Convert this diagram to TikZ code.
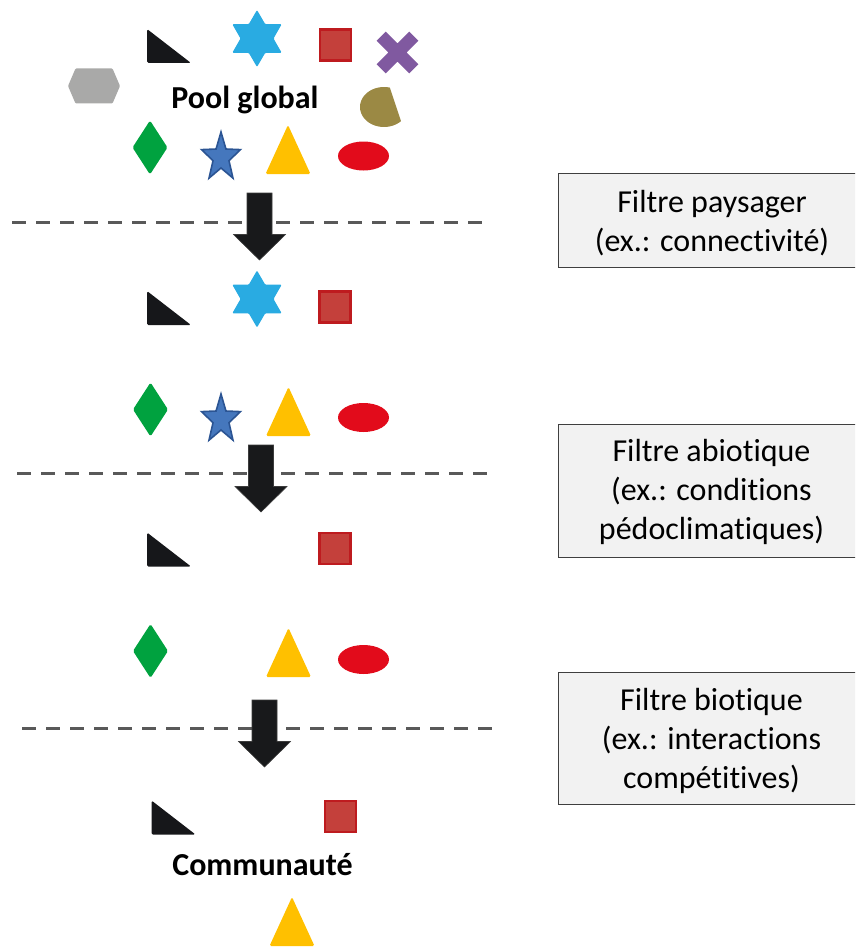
\documentclass[tikz,border=0pt]{standalone}
\usepackage{fontspec}
\setmainfont{Carlito}[Ligatures=NoCommon]

% species colours
\definecolor{tricol}{HTML}{16171A}
\definecolor{skyblue}{HTML}{29ABE2}
\definecolor{sqfill}{HTML}{C4403B}
\definecolor{sqline}{HTML}{BE1B1F}
\definecolor{purplec}{HTML}{8059A0}
\definecolor{grayhex}{HTML}{A9A9A8}
\definecolor{olivec}{HTML}{9B8944}
\definecolor{greenc}{HTML}{00A23F}
\definecolor{starfill}{HTML}{4577BD}
\definecolor{starline}{HTML}{2B5493}
\definecolor{yellowc}{HTML}{FFC000}
\definecolor{ellred}{HTML}{E20B1B}
% arrows, separators, filter boxes
\definecolor{arrowc}{HTML}{18191B}
\definecolor{arrowedge}{HTML}{3C3C3C}
\definecolor{sepgray}{HTML}{595959}
\definecolor{boxfill}{HTML}{F2F2F2}
\definecolor{boxline}{HTML}{3F3F3F}

\begin{document}
\begin{tikzpicture}[x=1pt,y=-1pt,
  every node/.style={inner sep=0pt},
  sepline/.style={draw=sepgray,line width=3pt,dash pattern=on 14pt off 10pt},
  filterbox/.style={draw=boxline,fill=boxfill,line width=1.3pt,
    minimum width=308pt,anchor=north west},
  filtertext/.style={align=center,font=\fontsize{32}{39}\selectfont,anchor=north},
  poollabel/.style={font=\fontsize{32}{38}\selectfont\bfseries,anchor=base},
  blocktri/.pic={\fill[tricol,rounded corners=1.5pt] (-22,-17) -- (-22,17) -- (22,17) -- cycle;},
  sixstar/.pic={\fill[skyblue,rounded corners=1pt]
    (90:28.5) -- (120:16.5) -- (150:28.5) -- (180:16.5) -- (210:28.5) -- (240:16.5)
    -- (270:28.5) -- (300:16.5) -- (330:28.5) -- (0:16.5) -- (30:28.5) -- (60:16.5) -- cycle;},
  redsq/.pic={\filldraw[fill=sqfill,draw=sqline,line width=2.4pt] (-15.5,-15.5) rectangle (15.5,15.5);},
  fivestar/.pic={\filldraw[fill=starfill,draw=starline,line width=1.6pt,xscale=0.8]
    (-90:25.5) -- (-54:10.5) -- (-18:25.5) -- (18:10.5) -- (54:25.5) -- (90:10.5)
    -- (126:25.5) -- (162:10.5) -- (198:25.5) -- (234:10.5) -- cycle;},
  ytri/.pic={\fill[yellowc,rounded corners=1.5pt] (0,-24.5) -- (22.5,24.5) -- (-22.5,24.5) -- cycle;},
  redell/.pic={\fill[ellred] (0,0) ellipse [x radius=25.5, y radius=14.5];},
  gdiamond/.pic={\fill[greenc,rounded corners=1.5pt] (0,-27) -- (17.5,0) -- (0,27) -- (-17.5,0) -- cycle;},
  purplex/.pic={\fill[purplec,rotate=45]
    (6.5,-23) -- (6.5,-6.5) -- (23,-6.5) -- (23,6.5) -- (6.5,6.5) -- (6.5,23)
    -- (-6.5,23) -- (-6.5,6.5) -- (-23,6.5) -- (-23,-6.5) -- (-6.5,-6.5) -- (-6.5,-23) -- cycle;},
  grayhexa/.pic={\fill[grayhex,rounded corners=1pt]
    (-26,0) -- (-18.5,-17.5) -- (18.5,-17.5) -- (26,0) -- (18.5,17.5) -- (-18.5,17.5) -- cycle;},
  chord/.pic={\fill[olivec]
    plot[domain=-76:-315,samples=60] ({24*cos(\x)},{20*sin(\x)}) -- cycle;},
  downarrow/.pic={\filldraw[fill=arrowc,draw=arrowedge,line width=0.6pt]
    (-12.5,0) -- (12.5,0) -- (12.5,41.5) -- (26,41.5) -- (0,67) -- (-26,41.5) -- (-12.5,41.5) -- cycle;}
]
\clip (0,0) rectangle (855,947);

% ---- filter separators ----
\coordinate (s1a) at (12,222);  \coordinate (s1b) at (490,222);
\coordinate (s2a) at (17,473);  \coordinate (s2b) at (495,473);
\coordinate (s3a) at (22,728);  \coordinate (s3b) at (500,728);
\draw[sepline] (s1a) -- (s1b);
\draw[sepline] (s2a) -- (s2b);
\draw[sepline] (s3a) -- (s3b);

% ---- global species pool ----
\pic at (169,46) {blocktri};
\pic at (257,38.5) {sixstar};
\pic at (335.5,45) {redsq};
\pic at (397.5,52.5) {purplex};
\pic at (94,86) {grayhexa};
\pic at (384,107) {chord};
\node[poollabel] (pool) at (245,109) {Pool global};
\pic at (150,147.5) {gdiamond};
\pic at (221,157.5) {fivestar};
\pic at (288,149.5) {ytri};
\pic at (363.5,156) {redell};

% ---- after the landscape filter ----
\pic at (169,308) {blocktri};
\pic at (257,299) {sixstar};
\pic at (335,307) {redsq};
\pic at (150.5,409.5) {gdiamond};
\pic at (221,419.5) {fivestar};
\pic at (288.5,411.5) {ytri};
\pic at (363.5,417.5) {redell};

% ---- after the abiotic filter ----
\pic at (169,549.5) {blocktri};
\pic at (335,548.5) {redsq};
\pic at (150.5,651) {gdiamond};
\pic at (288.5,652.5) {ytri};
\pic at (363.5,659.5) {redell};

% ---- community ----
\pic at (173.5,817.5) {blocktri};
\pic at (340.5,816.5) {redsq};
\node[poollabel] (comm) at (262.5,875) {Communauté};
\pic at (292,921.5) {ytri};

% ---- filtering arrows ----
\pic at (259.5,193) {downarrow};
\pic at (261,445) {downarrow};
\pic at (264.5,700) {downarrow};

% ---- filter descriptions ----
\node[filterbox,minimum height=94pt] (box1) at (558,173) {};
\node[filterbox,minimum height=133pt] (box2) at (558,424) {};
\node[filterbox,minimum height=132pt] (box3) at (558,672) {};
\node[filtertext] (txt1) at (712,190) {Filtre paysager\\(ex.: connectivité)};
\node[filtertext] (txt2) at (711.5,439.5) {Filtre abiotique\\(ex.: conditions\\pédoclimatiques)};
\node[filtertext] (txt3) at (711.5,688) {Filtre biotique\\(ex.: interactions\\compétitives)};
\end{tikzpicture}
\end{document}
